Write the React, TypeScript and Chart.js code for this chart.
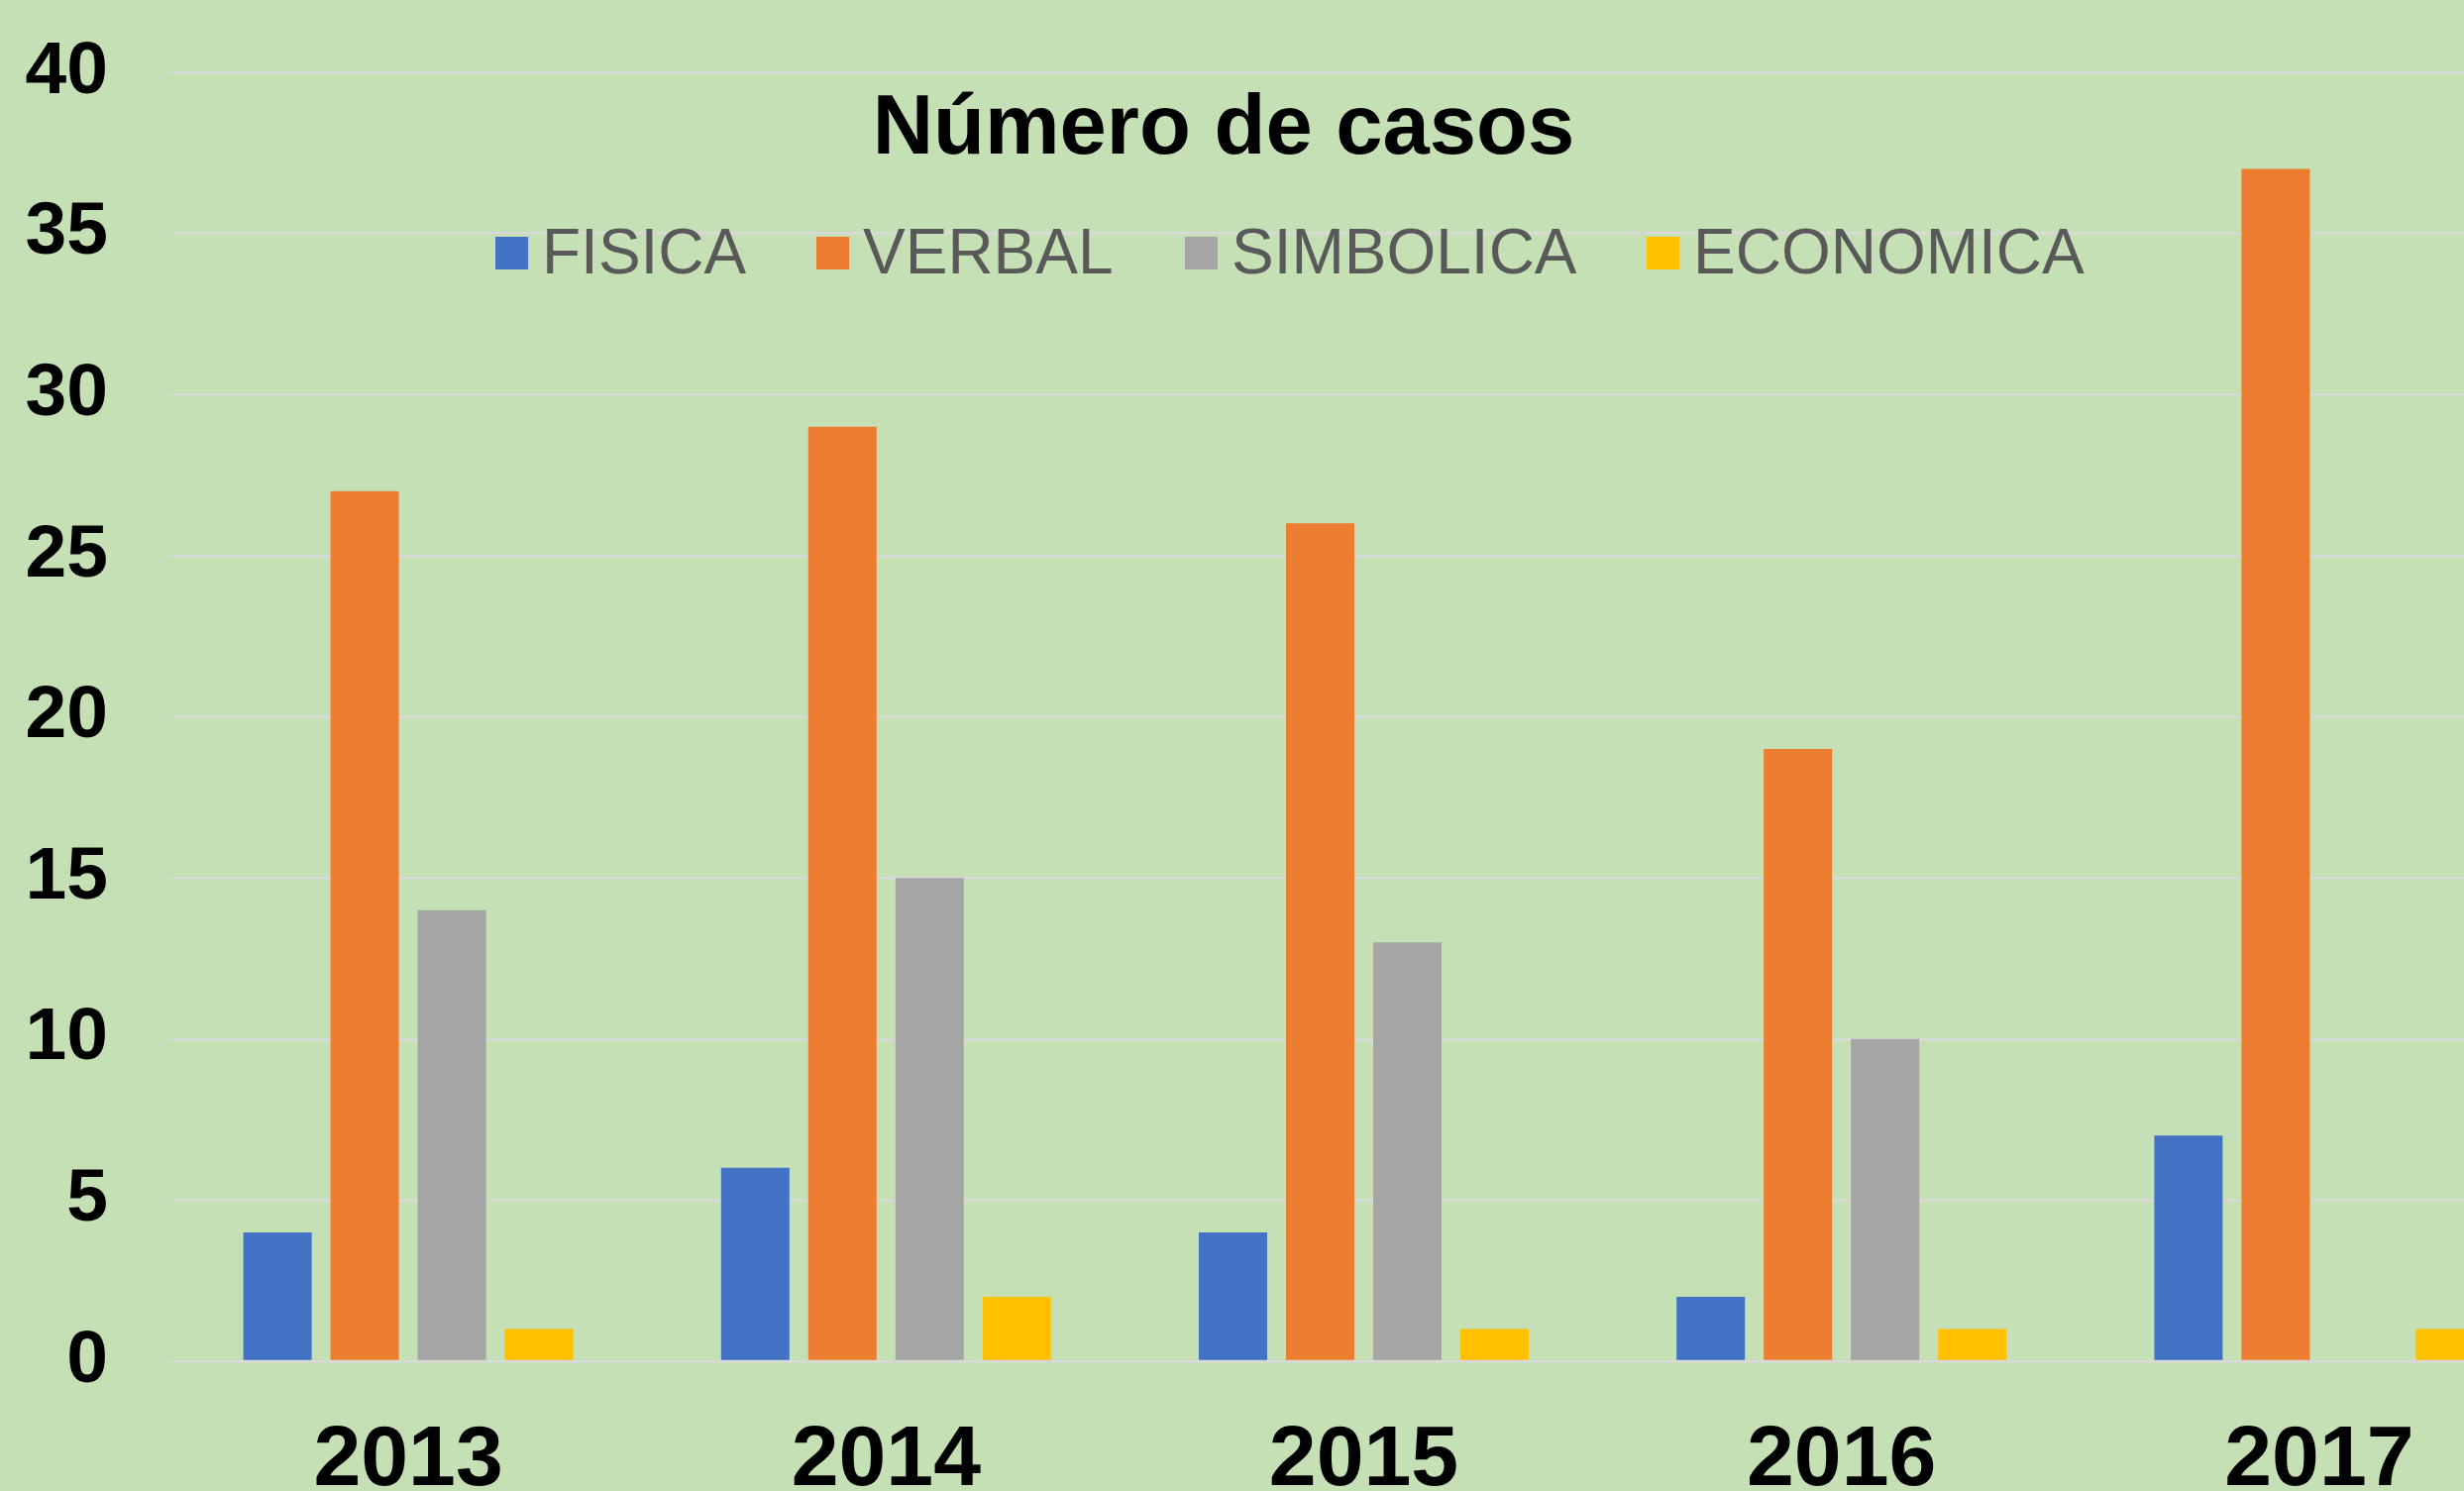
import React, { useEffect, useRef } from "react";
import { Chart, registerables } from "chart.js";

Chart.register(...registerables);

const categories = ["2013", "2014", "2015", "2016", "2017"];
const fisica = [4, 6, 4, 2, 7];
const verbal = [27, 29, 26, 19, 37];
const simbolica = [14, 15, 13, 10, null];
const economica = [1, 2, 1, 1, 1];
const seriesNames = ["FISICA", "VERBAL", "SIMBOLICA", "ECONOMICA"];
const seriesColors = ["#4472C4", "#ED7D31", "#A5A5A5", "#FFC000"];
const titleText = "Número de casos";
const yMin = 0;
const yMax = 40;
const yStep = 5;

const FONT = "'Liberation Sans', Arial, sans-serif";
// legend marker left edges (layout only)
const legendX = [500, 824, 1196, 1662];

const overlayPlugin = {
  id: "overlay",
  afterDraw(chart: any) {
    const ctx = chart.ctx;
    ctx.save();
    ctx.fillStyle = "#000000";
    ctx.font = `bold 85px ${FONT}`;
    ctx.textAlign = "center";
    ctx.textBaseline = "alphabetic";
    ctx.fillText(titleText, 1235, 155);

    ctx.font = `64px ${FONT}`;
    ctx.textAlign = "left";
    chart.data.datasets.forEach((ds: any, i: number) => {
      const x = legendX[i];
      ctx.fillStyle = ds.backgroundColor;
      ctx.fillRect(x, 239, 33, 33);
      ctx.fillStyle = "#595959";
      ctx.fillText(ds.label, x + 47, 276);
    });
    ctx.restore();
  },
};

export default function App() {
  const ref = useRef<HTMLCanvasElement | null>(null);

  useEffect(() => {
    if (!ref.current) return;
    const seriesData = [fisica, verbal, simbolica, economica];
    const chart = new Chart(ref.current, {
      type: "bar",
      data: {
        labels: categories,
        datasets: seriesNames.map((name, i) => ({
          label: name,
          data: seriesData[i] as any,
          backgroundColor: seriesColors[i],
          borderWidth: 0,
          categoryPercentage: 0.73,
          barPercentage: 0.784,
        })),
      },
      options: {
        animation: false,
        responsive: true,
        maintainAspectRatio: false,
        layout: { padding: { top: 73, left: 0, right: 0, bottom: 0 } },
        plugins: {
          legend: { display: false },
          title: { display: false },
          tooltip: { enabled: false },
        },
        scales: {
          x: {
            grid: { display: false, drawTicks: false },
            border: { display: false },
            ticks: {
              color: "#000000",
              padding: 50,
              font: { family: FONT, size: 86, weight: "bold" },
              maxRotation: 0,
              autoSkip: false,
            },
            afterFit: (scale: any) => {
              scale.height = 186;
              scale.paddingLeft = 0;
              scale.paddingRight = 0;
            },
          },
          y: {
            min: yMin,
            max: yMax,
            grid: { color: "#D9D9D9", lineWidth: 2.5, drawTicks: false },
            border: { display: false },
            ticks: {
              stepSize: yStep,
              color: "#000000",
              padding: 62,
              font: { family: FONT, size: 75, weight: "bold" },
            },
            afterFit: (scale: any) => {
              scale.width = 171;
              scale.paddingTop = 0;
              scale.paddingBottom = 0;
            },
          },
        },
      },
      plugins: [overlayPlugin],
    });
    return () => chart.destroy();
  }, []);

  return (
    <div
      style={{
        position: "fixed",
        left: 0,
        top: 0,
        width: 2487,
        height: 1505,
        overflow: "hidden",
        background: "#C5E0B4",
      }}
    >
      <div style={{ position: "relative", width: 2582, height: 1560 }}>
        <canvas ref={ref} />
      </div>
    </div>
  );
}
